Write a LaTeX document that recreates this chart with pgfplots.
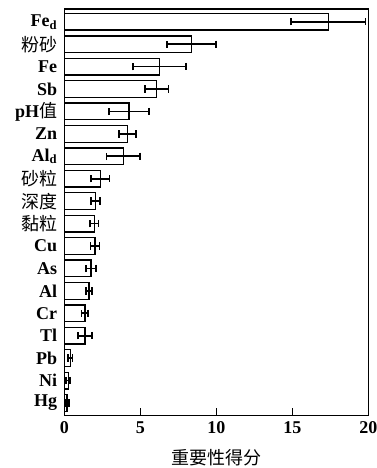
\documentclass[border=0pt]{standalone}
\usepackage{fontspec}
\setmainfont{Liberation Serif}
\newfontfamily\cjk{Noto Sans CJK SC}
\usepackage{pgfplots}
\pgfplotsset{compat=1.18}
\usepackage{pgfplotstable}
\pgfplotstableread{
idx val err
0  17.37 2.45
1  8.38  1.62
2  6.25  1.75
3  6.08  0.77
4  4.26  1.30
5  4.17  0.57
6  3.88  1.10
7  2.37  0.61
8  2.07  0.30
9  1.97  0.28
10 2.02  0.29
11 1.76  0.32
12 1.63  0.20
13 1.36  0.22
14 1.36  0.47
15 0.40  0.14
16 0.26  0.13
17 0.18  0.12
}\datatable
\begin{document}
\fontsize{18bp}{21bp}\selectfont
\begin{tikzpicture}
\useasboundingbox (-64.3bp,-52.3bp) rectangle (312.7bp,415.7bp);
\begin{axis}[
  at={(0,0)}, anchor=south west,
  scale only axis,
  width=304bp, height=406.7bp,
  xmin=0, xmax=20,
  ymin=-0.57, ymax=17.57,
  y dir=reverse,
  xtick={0,5,10,15,20},
  ytick={0,...,17},
  yticklabels={{\bfseries Fe\textsubscript{d}},{\cjk 粉砂},{\bfseries Fe},{\bfseries Sb},{\bfseries pH}{\cjk 值},{\bfseries Zn},{\bfseries Al\textsubscript{d}},{\cjk 砂粒},{\cjk 深度},{\cjk 黏粒},{\bfseries Cu},{\bfseries As},{\bfseries Al},{\bfseries Cr},{\bfseries Tl},{\bfseries Pb},{\bfseries Ni},{\bfseries Hg}},
  tick align=inside,
  xtick pos=bottom,
  major y tick style={draw=none},
  major tick length=8bp,
  tick style={line width=1.3bp, black},
  axis line style={line width=1.3bp},
  /pgf/number format/assume math mode=true,
  xticklabel style={font=\fontsize{18bp}{21bp}\selectfont\bfseries, yshift=0bp},
  yticklabel style={font=\fontsize{18bp}{21bp}\selectfont, xshift=-1bp},
  xlabel={\cjk 重要性得分},
  xlabel style={font=\fontsize{18bp}{21bp}\selectfont, yshift=-3bp},
  clip=false,
]
\addplot[xbar, bar width=16.7bp, fill=white, draw=black, line width=1.3bp,
  error bars/.cd, x dir=both, x explicit,
  error bar style={line width=1.7bp, black},
  error mark options={rotate=90, mark size=3.7bp, line width=1.7bp, black}]
  table[x=val, y=idx, x error=err] {\datatable};
\end{axis}
\end{tikzpicture}
\end{document}
